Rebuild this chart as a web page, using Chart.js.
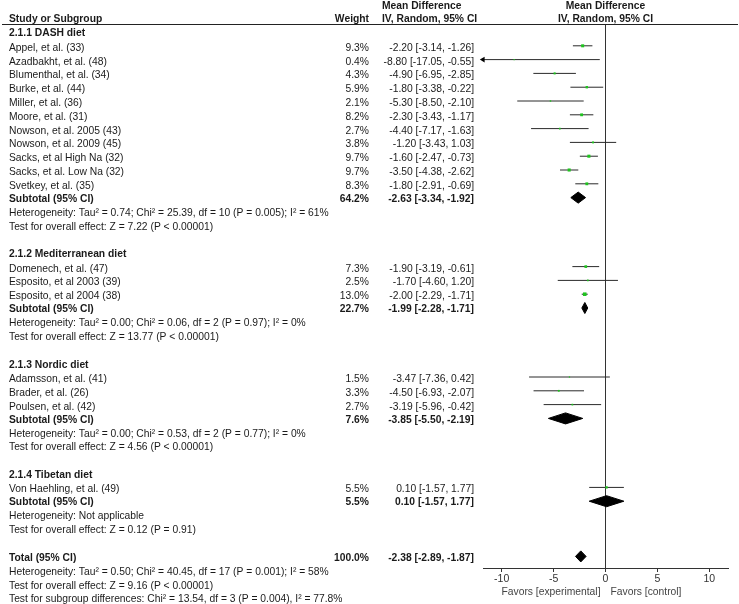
<!DOCTYPE html>
<html><head><meta charset="utf-8">
<script src="https://cdn.jsdelivr.net/npm/chart.js@4.4.1/dist/chart.umd.min.js"></script>
<style>html,body{margin:0;padding:0;background:#fff;}canvas{display:block;}</style>
</head><body>
<canvas id="c" width="739" height="604"></canvas>
<script>
// ---------- data ----------
const groupNames = ["2.1.1 DASH diet", "2.1.2 Mediterranean diet", "2.1.3 Nordic diet", "2.1.4 Tibetan diet"];
const studyNames = ["Appel, et al. (33)", "Azadbakht, et al. (48)", "Blumenthal, et al. (34)", "Burke, et al. (44)",
  "Miller, et al. (36)", "Moore, et al. (31)", "Nowson, et al. 2005 (43)", "Nowson, et al. 2009 (45)",
  "Sacks, et al High Na (32)", "Sacks, et al. Low Na (32)", "Svetkey, et al. (35)",
  "Domenech, et al. (47)", "Esposito, et al 2003 (39)", "Esposito, et al 2004 (38)",
  "Adamsson, et al. (41)", "Brader, et al. (26)", "Poulsen, et al. (42)",
  "Von Haehling, et al. (49)"];
const studyGroup  = [0,0,0,0,0,0,0,0,0,0,0, 1,1,1, 2,2,2, 3];
const studyWeight = [9.3,0.4,4.3,5.9,2.1,8.2,2.7,3.8,9.7,9.7,8.3, 7.3,2.5,13.0, 1.5,3.3,2.7, 5.5];
const studyMD     = [-2.20,-8.80,-4.90,-1.80,-5.30,-2.30,-4.40,-1.20,-1.60,-3.50,-1.80, -1.90,-1.70,-2.00, -3.47,-4.50,-3.19, 0.10];
const studyLo     = [-3.14,-17.05,-6.95,-3.38,-8.50,-3.43,-7.17,-3.43,-2.47,-4.38,-2.91, -3.19,-4.60,-2.29, -7.36,-6.93,-5.96, -1.57];
const studyHi     = [-1.26,-0.55,-2.85,-0.22,-2.10,-1.17,-1.63,1.03,-0.73,-2.62,-0.69, -0.61,1.20,-1.71, 0.42,-2.07,-0.42, 1.77];
const subWeight = [64.2, 22.7, 7.6, 5.5];
const subMD     = [-2.63, -1.99, -3.85, 0.10];
const subLo     = [-3.34, -2.28, -5.50, -1.57];
const subHi     = [-1.92, -1.71, -2.19, 1.77];
const subHet = ["Heterogeneity: Tau² = 0.74; Chi² = 25.39, df = 10 (P = 0.005); I² = 61%",
  "Heterogeneity: Tau² = 0.00; Chi² = 0.06, df = 2 (P = 0.97); I² = 0%",
  "Heterogeneity: Tau² = 0.00; Chi² = 0.53, df = 2 (P = 0.77); I² = 0%",
  "Heterogeneity: Not applicable"];
const subTest = ["Test for overall effect: Z = 7.22 (P < 0.00001)",
  "Test for overall effect: Z = 13.77 (P < 0.00001)",
  "Test for overall effect: Z = 4.56 (P < 0.00001)",
  "Test for overall effect: Z = 0.12 (P = 0.91)"];
const totalWeight = 100.0;
const totalEffect = [-2.38, -2.89, -1.87]; // MD, lower, upper
const totalNotes = ["Heterogeneity: Tau² = 0.50; Chi² = 40.45, df = 17 (P = 0.001); I² = 58%",
  "Test for overall effect: Z = 9.16 (P < 0.00001)",
  "Test for subgroup differences: Chi² = 13.54, df = 3 (P = 0.004), I² = 77.8%"];
const xTicks = [-10, -5, 0, 5, 10];
const axisLabels = ["Favors [experimental]", "Favors [control]"];

// ---------- layout of table lines ----------
const rows = [];
let line = 0;
groupNames.forEach((g, gi) => {
  rows.push({kind: 'group', line: line++, text: g});
  studyNames.forEach((s, i) => {
    if (studyGroup[i] !== gi) return;
    rows.push({kind: 'study', line: line++, i});
  });
  rows.push({kind: 'sub', line: line++, gi});
  rows.push({kind: 'note', line: line++, text: subHet[gi]});
  rows.push({kind: 'note', line: line++, text: subTest[gi]});
  line++;
});
rows.push({kind: 'total', line: line++});
totalNotes.forEach(t => rows.push({kind: 'note', line: line++, text: t}));

const fmt = v => v.toFixed(2);
const ciText = (m, l, h) => `${fmt(m)} [${fmt(l)}, ${fmt(h)}]`;

// ---------- datasets ----------
const DIAMOND_H = 0.4;
const datasets = [];
rows.forEach(r => {
  if (r.kind === 'study') {
    datasets.push({type: 'line', data: [{x: studyLo[r.i], y: r.line}, {x: studyHi[r.i], y: r.line}],
      borderColor: '#2a2a2a', borderWidth: 1, pointRadius: 0, fill: false, order: 2});
  }
});
datasets.push({type: 'scatter', order: 1,
  data: rows.filter(r => r.kind === 'study').map(r => ({x: studyMD[r.i], y: r.line, w: studyWeight[r.i]})),
  pointStyle: 'rect', backgroundColor: '#1fc41f', borderWidth: 0,
  pointRadius: ctx => Math.max(0.8, 0.7 * Math.sqrt(ctx.raw ? ctx.raw.w : 1))});
// arrow for CIs running off the left edge
datasets.push({type: 'scatter', order: 0, clip: false,
  data: rows.filter(r => r.kind === 'study' && studyLo[r.i] < -11.8).map(r => ({x: -11.8, y: r.line})),
  pointStyle: 'triangle', rotation: 270, pointRadius: 3.2, backgroundColor: '#000', borderWidth: 0});
const diamond = (m, l, h, y) => ({type: 'line', data: [{x: l, y}, {x: m, y: y - DIAMOND_H}, {x: h, y}, {x: m, y: y + DIAMOND_H}, {x: l, y}],
  borderColor: '#000', borderWidth: 1, backgroundColor: '#000', fill: 'shape', pointRadius: 0, tension: 0, order: 1});
rows.forEach(r => {
  if (r.kind === 'sub') datasets.push(diamond(subMD[r.gi], subLo[r.gi], subHi[r.gi], r.line));
  if (r.kind === 'total') datasets.push(diamond(totalEffect[0], totalEffect[1], totalEffect[2], r.line));
});

// ---------- text plugin ----------
const FAM = '"Liberation Sans", Arial, Helvetica, sans-serif';
const FS = 10.3;
const textPlugin = {
  id: 'forestText',
  afterDraw(chart) {
    const c = chart.ctx, ys = chart.scales.y, ca = chart.chartArea;
    const Y = v => ys.getPixelForValue(v);
    const put = (txt, x, v, align, bold, color) => {
      c.font = (bold ? 'bold ' : '') + FS + 'px ' + FAM;
      c.fillStyle = color || '#1a1a1a';
      c.textAlign = align; c.textBaseline = 'middle';
      c.fillText(txt, x, Y(v));
    };
    c.save();
    const colL = 9, colW = 369, colMD = 474, colHdr = 382, mid = (ca.left + ca.right) / 2;
    const TN = 0.12, TS = 0.16, TT = 0.1, TH = 0.08;
    // header
    put('Study or Subgroup', colL, -1 + TH, 'left', true);
    put('Weight', colW, -1 + TH, 'right', true);
    put('Mean Difference', colHdr, -2 + TH + 0.05, 'left', true);
    put('IV, Random, 95% CI', colHdr, -1 + TH, 'left', true);
    put('Mean Difference', mid, -2 + TH + 0.05, 'center', true);
    put('IV, Random, 95% CI', mid, -1 + TH, 'center', true);
    c.strokeStyle = '#222'; c.lineWidth = 1;
    c.beginPath(); c.moveTo(2, Math.round(ca.top) + 0.5); c.lineTo(738, Math.round(ca.top) + 0.5); c.stroke();
    rows.forEach(r => {
      if (r.kind === 'group') put(r.text, colL, r.line + TN, 'left', true);
      else if (r.kind === 'note') put(r.text, colL, r.line + TN, 'left', false);
      else if (r.kind === 'study') {
        put(studyNames[r.i], colL, r.line + TS, 'left', false);
        put(studyWeight[r.i].toFixed(1) + '%', colW, r.line + TS, 'right', false);
        put(ciText(studyMD[r.i], studyLo[r.i], studyHi[r.i]), colMD, r.line + TS, 'right', false);
      } else if (r.kind === 'sub') {
        put('Subtotal (95% CI)', colL, r.line + TT, 'left', true);
        put(subWeight[r.gi].toFixed(1) + '%', colW, r.line + TT, 'right', true);
        put(ciText(subMD[r.gi], subLo[r.gi], subHi[r.gi]), colMD, r.line + TT, 'right', true);
      } else if (r.kind === 'total') {
        put('Total (95% CI)', colL, r.line + TT, 'left', true);
        put(totalWeight.toFixed(1) + '%', colW, r.line + TT, 'right', true);
        put(ciText(totalEffect[0], totalEffect[1], totalEffect[2]), colMD, r.line + TT, 'right', true);
      }
    });
    // favours labels under the axis
    const x0 = chart.scales.x.getPixelForValue(0);
    put(axisLabels[0], x0 - 5, 40.6, 'right', false, '#444');
    put(axisLabels[1], x0 + 5, 40.6, 'left', false, '#444');
    c.restore();
  }
};

new Chart(document.getElementById('c'), {
  type: 'scatter',
  data: {datasets},
  plugins: [textPlugin],
  options: {
    responsive: false, animation: false, events: [],
    layout: {padding: {left: 483, right: 11, top: 24, bottom: 0}},
    plugins: {legend: {display: false}, tooltip: {enabled: false}},
    scales: {
      x: {type: 'linear', min: -11.8, max: 11.8,
        afterBuildTicks: s => { s.ticks = xTicks.map(v => ({value: v})); },
        afterFit: s => { s.height = 36; },
        grid: {drawOnChartArea: true, drawTicks: true, tickLength: 4, tickColor: '#333',
          color: ctx => (ctx.tick && ctx.tick.value === 0) ? '#333' : 'rgba(0,0,0,0)', lineWidth: 1},
        border: {display: true, color: '#333', width: 1},
        ticks: {font: {family: FAM, size: 10.5}, color: '#333', padding: 1, autoSkip: false, maxRotation: 0}},
      y: {type: 'linear', reverse: true, min: -0.58, max: 38.84, display: false}
    }
  }
});
</script>
</body></html>
